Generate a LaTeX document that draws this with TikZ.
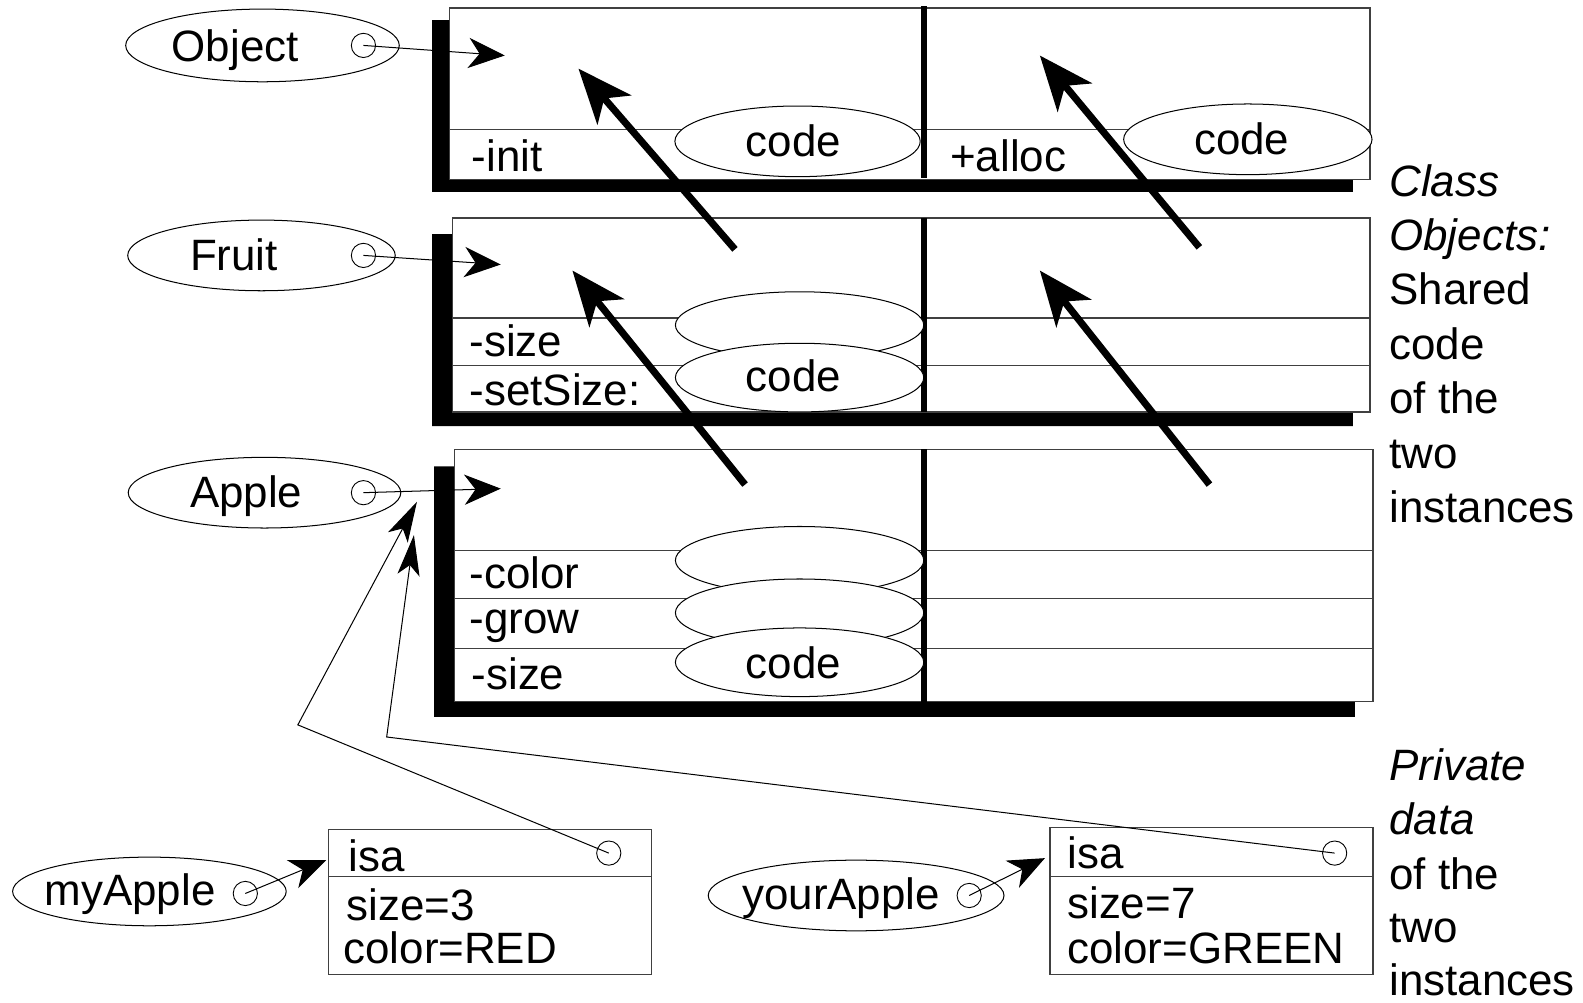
\documentclass[tikz,border=0pt]{standalone}
\usepackage{fontspec}
\setmainfont{Liberation Sans}
\usetikzlibrary{arrows.meta,shapes.geometric}
\begin{document}
\begin{tikzpicture}[x=1pt,y=-1pt,
  txt/.style={font=\fontsize{43.5}{50}\selectfont, inner sep=0pt, anchor=base west},
  ctxt/.style={font=\fontsize{43.5}{50}\selectfont, inner sep=0pt, anchor=base},
  itxt/.style={font=\fontsize{43.5}{50}\selectfont\itshape, inner sep=0pt, anchor=base west},
  oval/.style={ellipse, draw, line width=1pt, fill=white, inner sep=0pt},
  dot/.style={circle, draw, line width=0.9pt, minimum size=24pt, inner sep=0pt},
  boxline/.style={line width=1.2pt, draw=black!75},
  ptr/.style={line width=1pt, -{Stealth[length=36pt,width=30pt,inset=11pt]}},
  bigarrow/.style={line width=7pt, -{Stealth[length=54pt,width=44pt,inset=15pt]}},
  isaarrow/.style={line width=1pt, -{Stealth[length=40pt,width=22pt,inset=10pt]}},
  blk/.style={fill=black},
  divider/.style={line width=6pt},
]
\useasboundingbox (0,0) rectangle (1568,993);

% ---------- Box 1 : Object ----------
\fill[blk] (428,20) -- (445,20) -- (445,178) -- (1340,178) -- (1340,190) -- (428,190) -- cycle;
\draw[boxline] (445,8) rectangle (1357,178);
\draw[boxline] (445,128) -- (1357,128);
\draw[divider] (915,6) -- (915,176);
\node[oval, minimum width=243pt, minimum height=70pt] (c1a) at (790,140) {};
\node[ctxt] at (786,155) {code};
\node[oval, minimum width=246pt, minimum height=70pt] (c1b) at (1236,138) {};
\node[ctxt] at (1230,153) {code};
\node[txt] at (467,170) {-init};
\node[txt] at (941,170) {+alloc};

% ---------- Box 2 : Fruit ----------
\fill[blk] (428,232) -- (448,232) -- (448,408) -- (1340,408) -- (1340,422) -- (428,422) -- cycle;
\draw[boxline] (448,216) rectangle (1357,408);
\draw[boxline] (448,315) -- (1357,315);
\draw[boxline] (448,362) -- (1357,362);
\draw[divider] (915,216) -- (915,408);
\node[oval, minimum width=246pt, minimum height=66pt] (c2a) at (792,322) {};
\node[oval, minimum width=246pt, minimum height=68pt] (c2b) at (792,374) {};
\node[ctxt] at (786,388) {code};
\node[txt] at (465,353) {-size};
\node[txt] at (465,402) {-setSize:};

% ---------- Box 3 : Apple ----------
\fill[blk] (430,462) -- (450,462) -- (450,695) -- (1342,695) -- (1342,710) -- (430,710) -- cycle;
\draw[boxline] (450,445) rectangle (1360,695);
\draw[boxline] (450,545) -- (1360,545);
\draw[boxline] (450,593) -- (1360,593);
\draw[boxline] (450,642) -- (1360,642);
\draw[divider] (915,445) -- (915,695);
\node[oval, minimum width=246pt, minimum height=67pt] (c3a) at (792,555) {};
\node[oval, minimum width=246pt, minimum height=67pt] (c3b) at (792,607) {};
\node[oval, minimum width=246pt, minimum height=68pt] (c3c) at (792,656) {};
\node[ctxt] at (786,672) {code};
\node[txt] at (465,583) {-color};
\node[txt] at (465,627) {-grow};
\node[txt] at (467,683) {-size};

% ---------- class name ovals ----------
\node[oval, minimum width=271pt, minimum height=72pt] (objE) at (260,45) {};
\node[txt] at (170,61) {Object};
\node[dot] (objC) at (360,45) {};
\node[oval, minimum width=265pt, minimum height=70pt] (fruE) at (259,253) {};
\node[txt] at (188,268) {Fruit};
\node[dot] (fruC) at (360,253) {};
\node[oval, minimum width=270pt, minimum height=70pt] (appE) at (262,488) {};
\node[txt] at (188,503) {Apple};
\node[dot] (appC) at (360,488) {};

\coordinate (objT) at (500,55);
\coordinate (fruT) at (496,262);
\coordinate (appT) at (496,484);
\draw[ptr] (objC.center) -- (objT);
\draw[ptr] (fruC.center) -- (fruT);
\draw[ptr] (appC.center) -- (appT);

% ---------- superclass (thick) arrows ----------
\coordinate (s1) at (728,247);  \coordinate (t1) at (573,68);
\coordinate (s2) at (1188,245); \coordinate (t2) at (1030,55);
\coordinate (s3) at (738,480);  \coordinate (t3) at (567,268);
\coordinate (s4) at (1198,480); \coordinate (t4) at (1030,268);
\draw[bigarrow] (s1) -- (t1);
\draw[bigarrow] (s2) -- (t2);
\draw[bigarrow] (s3) -- (t3);
\draw[bigarrow] (s4) -- (t4);

% ---------- instances ----------
\node[oval, minimum width=271pt, minimum height=68pt] (myE) at (148,883) {};
\node[txt] at (44,897) {myApple};
\node[dot] (myC) at (243,885) {};
\draw[boxline] (325,822) rectangle (645,965);
\draw[boxline] (325,868) -- (645,868);
\node[txt] at (345,863) {isa};
\node[txt] at (343,912) {size=3};
\node[txt] at (340,954) {color=RED};
\node[dot] (myIsa) at (603,845) {};
\coordinate (myBox) at (323,852);
\draw[ptr] (myC.center) -- (myBox);

\node[oval, minimum width=293pt, minimum height=70pt] (yoE) at (848,887) {};
\node[txt] at (735,901) {yourApple};
\node[dot] (yoC) at (960,887) {};
\draw[boxline] (1040,820) rectangle (1360,965);
\draw[boxline] (1040,868) -- (1360,868);
\node[txt] at (1057,860) {isa};
\node[txt] at (1057,910) {size=7};
\node[txt] at (1057,954) {color=GREEN};
\node[dot] (yoIsa) at (1322,845) {};
\coordinate (yoBox) at (1035,850);
\draw[ptr] (yoC.center) -- (yoBox);

% isa links to Apple class
\coordinate (bendA) at (295,718); \coordinate (tipA) at (413,497);
\coordinate (bendB) at (383,730); \coordinate (tipB) at (410,530);
\draw[isaarrow] (myIsa.center) -- (bendA) -- (tipA);
\draw[isaarrow] (yoIsa.center) -- (bendB) -- (tipB);

% ---------- side captions ----------
\node[itxt] at (1376,195) {Class};
\node[itxt] at (1376,248) {Objects:};
\node[txt] at (1376,302) {Shared};
\node[txt] at (1376,356) {code};
\node[txt] at (1376,410) {of the};
\node[txt] at (1376,464) {two};
\node[txt] at (1376,518) {instances};
\node[itxt] at (1376,773) {Private};
\node[itxt] at (1376,827) {data};
\node[txt] at (1376,881) {of the};
\node[txt] at (1376,934) {two};
\node[txt] at (1376,986) {instances};
\end{tikzpicture}
\end{document}
